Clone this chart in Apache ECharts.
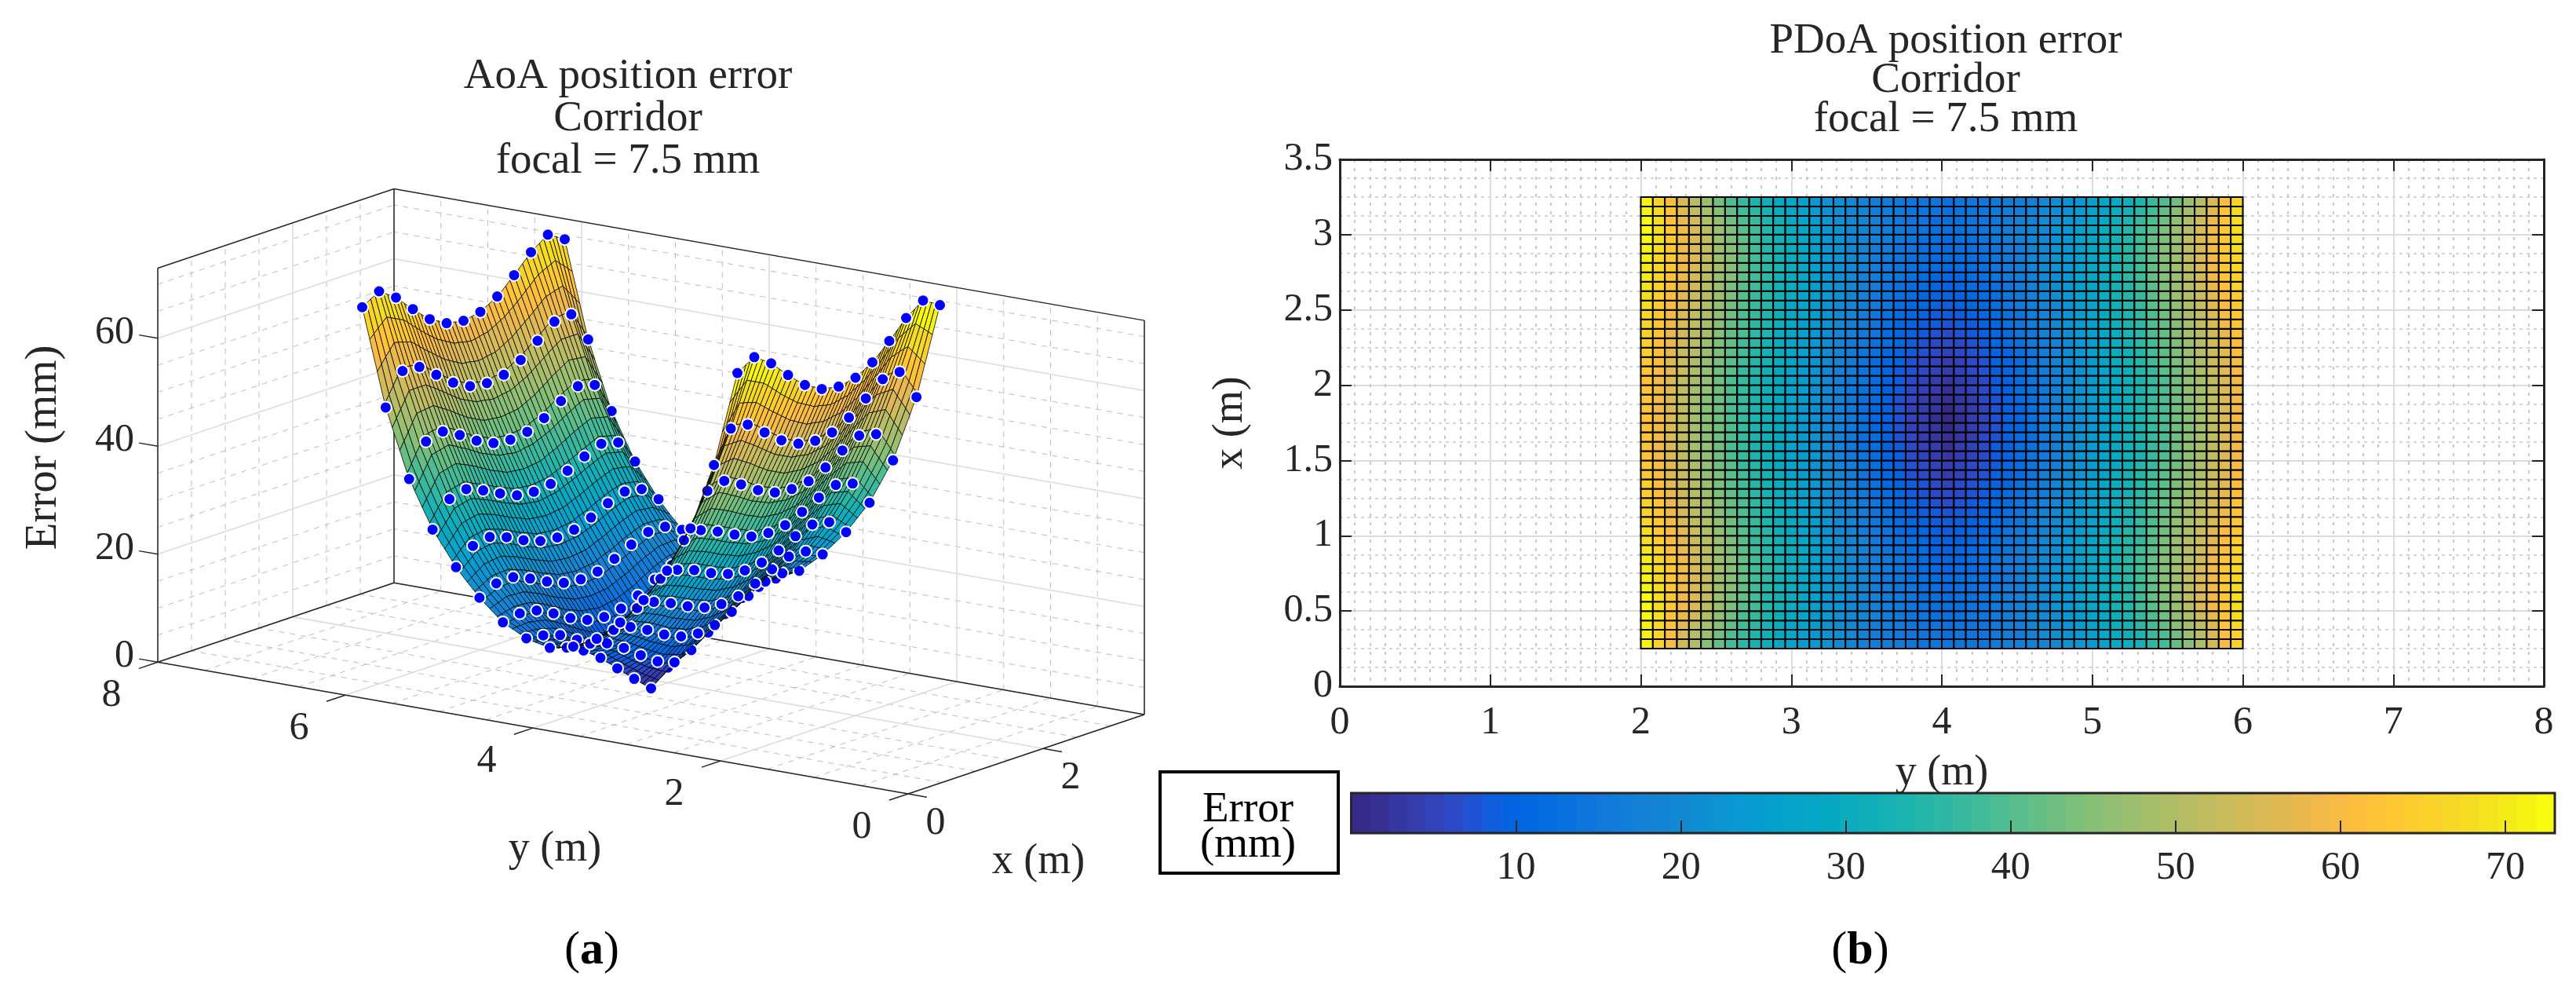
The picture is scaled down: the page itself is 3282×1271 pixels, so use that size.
<!DOCTYPE html>
<html><head><meta charset="utf-8">
<style>html,body{margin:0;padding:0;background:#fff}#c{width:3282px;height:1271px}</style>
<script src="https://cdn.jsdelivr.net/npm/echarts@6/dist/echarts.min.js"></script>
</head><body><div id="c"></div>
<script>
// ---------- data ----------
const surfaceXStart = 0.25, surfaceXStep = 0.0625, surfaceYStart = 2, surfaceYStep = 0.08;
// error in tenths of a mm; rows: x from 0.25 to 3.25, columns: y from 2 to 6
const errorTenths = [
[708,651,594,537,495,455,415,385,357,330,307,287,267,249,233,218,203,191,179,168,161,154,148,144,141,138,141,144,148,154,161,168,179,191,203,218,233,249,267,287,307,330,357,385,415,455,495,537,594,651,708],
[713,659,605,551,510,470,430,399,370,342,318,296,275,256,239,223,207,194,181,169,162,154,147,143,139,136,139,143,147,154,162,169,181,194,207,223,239,256,275,296,318,342,370,399,430,470,510,551,605,659,713],
[718,667,616,565,524,484,445,413,383,354,328,306,283,263,245,227,211,197,183,171,162,153,145,141,137,133,137,141,145,153,162,171,183,197,211,227,245,263,283,306,328,354,383,413,445,484,524,565,616,667,718],
[722,674,626,579,538,499,459,427,396,365,338,315,291,270,250,232,214,200,185,172,163,153,144,140,135,130,135,140,144,153,163,172,185,200,214,232,250,270,291,315,338,365,396,427,459,499,538,579,626,674,722],
[727,682,637,593,553,513,474,441,409,377,349,324,299,277,256,236,218,203,187,173,163,152,142,138,133,128,133,138,142,152,163,173,187,203,218,236,256,277,299,324,349,377,409,441,474,513,553,593,637,682,727],
[722,678,635,592,553,514,476,443,411,379,351,326,301,278,257,237,218,203,186,172,161,150,140,135,130,124,130,135,140,150,161,172,186,203,218,237,257,278,301,326,351,379,411,443,476,514,553,592,635,678,722],
[716,674,633,591,553,515,478,445,413,381,353,328,302,280,258,237,219,202,186,171,160,148,137,132,126,120,126,132,137,148,160,171,186,202,219,237,258,280,302,328,353,381,413,445,478,515,553,591,633,674,716],
[711,670,630,590,553,516,479,447,415,383,355,329,304,281,259,238,219,202,185,170,158,146,135,128,123,116,123,128,135,146,158,170,185,202,219,238,259,281,304,329,355,383,415,447,479,516,553,590,630,670,711],
[705,666,628,589,553,517,481,449,417,385,357,331,305,282,260,238,219,201,184,169,156,144,132,125,119,112,119,125,132,144,156,169,184,201,219,238,260,282,305,331,357,385,417,449,481,517,553,589,628,666,705],
[697,659,621,583,547,512,477,445,413,382,354,328,302,279,257,235,216,198,180,165,152,139,127,120,113,106,113,120,127,139,152,165,180,198,216,235,257,279,302,328,354,382,413,445,477,512,547,583,621,659,697],
[689,651,614,577,542,507,472,441,410,378,351,325,300,276,254,232,212,194,177,161,148,135,123,115,108,100,108,115,123,135,148,161,177,194,212,232,254,276,300,325,351,378,410,441,472,507,542,577,614,651,689],
[681,644,607,570,536,502,468,436,406,374,347,322,297,273,251,229,209,191,173,156,143,130,118,110,102,94,102,110,118,130,143,156,173,191,209,229,251,273,297,322,347,374,406,436,468,502,536,570,607,644,681],
[673,636,600,564,530,497,463,432,402,371,344,319,294,270,248,226,205,187,169,152,139,125,113,105,96,88,96,105,113,125,139,152,169,187,205,226,248,270,294,319,344,371,402,432,463,497,530,564,600,636,673],
[666,629,594,558,524,491,458,427,398,367,340,315,290,266,244,222,201,183,164,147,134,120,107,98,89,80,89,98,107,120,134,147,164,183,201,222,244,266,290,315,340,367,398,427,458,491,524,558,594,629,666],
[658,622,587,551,518,485,452,422,393,363,336,311,286,262,240,218,197,178,160,142,128,114,101,91,82,73,82,91,101,114,128,142,160,178,197,218,240,262,286,311,336,363,393,422,452,485,518,551,587,622,658],
[651,616,581,545,512,480,447,417,389,359,332,307,282,258,236,214,193,174,155,137,123,109,95,85,75,66,75,85,95,109,123,137,155,174,193,214,236,258,282,307,332,359,389,417,447,480,512,545,581,616,651],
[644,609,574,538,506,474,442,412,384,355,328,303,278,254,232,210,189,170,150,132,118,103,89,78,68,58,68,78,89,103,118,132,150,170,189,210,232,254,278,303,328,355,384,412,442,474,506,538,574,609,644],
[640,605,570,534,502,470,438,409,380,352,325,300,275,251,229,207,186,167,147,129,114,98,83,72,61,51,61,72,83,98,114,129,147,167,186,207,229,251,275,300,325,352,380,409,438,470,502,534,570,605,640],
[635,600,565,530,498,466,435,405,377,348,322,297,272,248,226,204,183,163,144,125,109,93,78,66,55,43,55,66,78,93,109,125,144,163,183,204,226,248,272,297,322,348,377,405,435,466,498,530,565,600,635],
[631,596,561,525,494,462,431,402,373,345,318,293,268,245,222,200,179,160,140,122,105,88,72,60,48,36,48,60,72,88,105,122,140,160,179,200,222,245,268,293,318,345,373,402,431,462,494,525,561,596,631],
[626,591,556,521,490,458,427,398,369,341,315,290,265,242,219,197,176,156,137,118,100,83,66,54,41,28,41,54,66,83,100,118,137,156,176,197,219,242,265,290,315,341,369,398,427,458,490,521,556,591,626],
[625,590,555,520,489,457,426,397,368,340,314,289,264,241,218,196,175,155,136,116,98,81,63,50,35,21,35,50,63,81,98,116,136,155,175,196,218,241,264,289,314,340,368,397,426,457,489,520,555,590,625],
[623,588,554,519,488,456,425,396,367,339,313,288,263,240,217,195,174,154,135,115,97,78,60,45,30,14,30,45,60,78,97,115,135,154,174,195,217,240,263,288,313,339,367,396,425,456,488,519,554,588,623],
[621,586,552,517,486,455,424,394,366,338,311,287,262,239,216,194,173,153,133,113,95,75,57,40,24,7,24,40,57,75,95,113,133,153,173,194,216,239,262,287,311,338,366,394,424,455,486,517,552,586,621],
[620,585,551,516,485,454,423,393,365,337,310,286,261,238,215,193,172,152,132,112,93,73,54,36,18,0,18,36,54,73,93,112,132,152,172,193,215,238,261,286,310,337,365,393,423,454,485,516,551,585,620],
[621,586,552,517,486,455,424,394,366,338,311,287,262,239,216,194,173,153,133,113,95,75,57,40,24,7,24,40,57,75,95,113,133,153,173,194,216,239,262,287,311,338,366,394,424,455,486,517,552,586,621],
[623,588,554,519,488,456,425,396,367,339,313,288,263,240,217,195,174,154,135,115,97,78,60,45,30,14,30,45,60,78,97,115,135,154,174,195,217,240,263,288,313,339,367,396,425,456,488,519,554,588,623],
[625,590,555,520,489,457,426,397,368,340,314,289,264,241,218,196,175,155,136,116,98,81,63,50,35,21,35,50,63,81,98,116,136,155,175,196,218,241,264,289,314,340,368,397,426,457,489,520,555,590,625],
[626,591,556,521,490,458,427,398,369,341,315,290,265,242,219,197,176,156,137,118,100,83,66,54,41,28,41,54,66,83,100,118,137,156,176,197,219,242,265,290,315,341,369,398,427,458,490,521,556,591,626],
[631,596,561,525,494,462,431,402,373,345,318,293,268,245,222,200,179,160,140,122,105,88,72,60,48,36,48,60,72,88,105,122,140,160,179,200,222,245,268,293,318,345,373,402,431,462,494,525,561,596,631],
[635,600,565,530,498,466,435,405,377,348,322,297,272,248,226,204,183,163,144,125,109,93,78,66,55,43,55,66,78,93,109,125,144,163,183,204,226,248,272,297,322,348,377,405,435,466,498,530,565,600,635],
[640,605,570,534,502,470,438,409,380,352,325,300,275,251,229,207,186,167,147,129,114,98,83,72,61,51,61,72,83,98,114,129,147,167,186,207,229,251,275,300,325,352,380,409,438,470,502,534,570,605,640],
[644,609,574,538,506,474,442,412,384,355,328,303,278,254,232,210,189,170,150,132,118,103,89,78,68,58,68,78,89,103,118,132,150,170,189,210,232,254,278,303,328,355,384,412,442,474,506,538,574,609,644],
[651,616,581,545,512,480,447,417,389,359,332,307,282,258,236,214,193,174,155,137,123,109,95,85,75,66,75,85,95,109,123,137,155,174,193,214,236,258,282,307,332,359,389,417,447,480,512,545,581,616,651],
[658,622,587,551,518,485,452,422,393,363,336,311,286,262,240,218,197,178,160,142,128,114,101,91,82,73,82,91,101,114,128,142,160,178,197,218,240,262,286,311,336,363,393,422,452,485,518,551,587,622,658],
[666,629,594,558,524,491,458,427,398,367,340,315,290,266,244,222,201,183,164,147,134,120,107,98,89,80,89,98,107,120,134,147,164,183,201,222,244,266,290,315,340,367,398,427,458,491,524,558,594,629,666],
[673,636,600,564,530,497,463,432,402,371,344,319,294,270,248,226,205,187,169,152,139,125,113,105,96,88,96,105,113,125,139,152,169,187,205,226,248,270,294,319,344,371,402,432,463,497,530,564,600,636,673],
[681,644,607,570,536,502,468,436,406,374,347,322,297,273,251,229,209,191,173,156,143,130,118,110,102,94,102,110,118,130,143,156,173,191,209,229,251,273,297,322,347,374,406,436,468,502,536,570,607,644,681],
[689,651,614,577,542,507,472,441,410,378,351,325,300,276,254,232,212,194,177,161,148,135,123,115,108,100,108,115,123,135,148,161,177,194,212,232,254,276,300,325,351,378,410,441,472,507,542,577,614,651,689],
[697,659,621,583,547,512,477,445,413,382,354,328,302,279,257,235,216,198,180,165,152,139,127,120,113,106,113,120,127,139,152,165,180,198,216,235,257,279,302,328,354,382,413,445,477,512,547,583,621,659,697],
[705,666,628,589,553,517,481,449,417,385,357,331,305,282,260,238,219,201,184,169,156,144,132,125,119,112,119,125,132,144,156,169,184,201,219,238,260,282,305,331,357,385,417,449,481,517,553,589,628,666,705],
[711,670,630,590,553,516,479,447,415,383,355,329,304,281,259,238,219,202,185,170,158,146,135,128,123,116,123,128,135,146,158,170,185,202,219,238,259,281,304,329,355,383,415,447,479,516,553,590,630,670,711],
[716,674,633,591,553,515,478,445,413,381,353,328,302,280,258,237,219,202,186,171,160,148,137,132,126,120,126,132,137,148,160,171,186,202,219,237,258,280,302,328,353,381,413,445,478,515,553,591,633,674,716],
[722,678,635,592,553,514,476,443,411,379,351,326,301,278,257,237,218,203,186,172,161,150,140,135,130,124,130,135,140,150,161,172,186,203,218,237,257,278,301,326,351,379,411,443,476,514,553,592,635,678,722],
[727,682,637,593,553,513,474,441,409,377,349,324,299,277,256,236,218,203,187,173,163,152,142,138,133,128,133,138,142,152,163,173,187,203,218,236,256,277,299,324,349,377,409,441,474,513,553,593,637,682,727],
[722,674,626,579,538,499,459,427,396,365,338,315,291,270,250,232,214,200,185,172,163,153,144,140,135,130,135,140,144,153,163,172,185,200,214,232,250,270,291,315,338,365,396,427,459,499,538,579,626,674,722],
[718,667,616,565,524,484,445,413,383,354,328,306,283,263,245,227,211,197,183,171,162,153,145,141,137,133,137,141,145,153,162,171,183,197,211,227,245,263,283,306,328,354,383,413,445,484,524,565,616,667,718],
[713,659,605,551,510,470,430,399,370,342,318,296,275,256,239,223,207,194,181,169,162,154,147,143,139,136,139,143,147,154,162,169,181,194,207,223,239,256,275,296,318,342,370,399,430,470,510,551,605,659,713],
[708,651,594,537,495,455,415,385,357,330,307,287,267,249,233,218,203,191,179,168,161,154,148,144,141,138,141,144,148,154,161,168,179,191,203,218,233,249,267,287,307,330,357,385,415,455,495,537,594,651,708]
];
// measured points: error in tenths of a mm; rows y = 2..6 (step 0.25), columns x = 0.25..3.25 (step 0.25)
const measuredX = [0.25,0.5,0.75,1,1.25,1.5,1.75,2,2.25,2.5,2.75,3,3.25];
const measuredY = [2,2.25,2.5,2.75,3,3.25,3.5,3.75,4,4.25,4.5,4.75,5,5.25,5.5,5.75,6];
const measuredTenths = [
[708,727,705,673,644,626,620,626,644,673,705,727,708],
[530,587,584,559,534,517,512,517,534,559,584,587,530],
[405,464,472,455,434,419,415,419,434,455,472,464,405],
[319,365,373,360,344,330,326,330,344,360,373,365,319],
[257,286,292,281,265,253,249,253,265,281,292,286,257],
[208,224,225,212,196,183,179,183,196,212,225,224,208],
[170,176,171,155,136,122,117,122,136,155,171,176,170],
[148,143,133,114,90,68,56,68,90,114,133,143,148],
[138,128,112,88,58,28,0,28,58,88,112,128,138],
[148,143,133,114,90,68,56,68,90,114,133,143,148],
[170,176,171,155,136,122,117,122,136,155,171,176,170],
[208,224,225,212,196,183,179,183,196,212,225,224,208],
[257,286,292,281,265,253,249,253,265,281,292,286,257],
[319,365,373,360,344,330,326,330,344,360,373,365,319],
[405,464,472,455,434,419,415,419,434,455,472,464,405],
[530,587,584,559,534,517,512,517,534,559,584,587,530],
[708,727,705,673,644,626,620,626,644,673,705,727,708]
];
// 3D axes
const xLimits = [0,3.5], yLimits = [0,8], zLimits = [0,73];
const xMajor = [0,2], yMajor = [0,2,4,6,8], zMajor = [0,20,40,60];
const xMinor = [0.5,1,1.5,2.5,3,3.5], yMinor = [0.5,1,1.5,2.5,3,3.5,4.5,5,5.5,6.5,7,7.5];
const zMinor = [5,10,15,25,30,35,45,50,55,65,70];
const colorbarRange = [0,73];
// parula, 64 levels
const colormap = [[.2081,.1663,.5292],[.2116,.1898,.5777],[.2123,.2138,.6270],[.2081,.2386,.6771],[.1959,.2645,.7279],[.1707,.2919,.7792],[.1253,.3242,.8303],[.0591,.3598,.8683],[.0117,.3875,.8820],[.0060,.4086,.8828],[.0165,.4266,.8786],[.0329,.4430,.8720],[.0498,.4586,.8641],[.0629,.4737,.8554],[.0723,.4887,.8467],[.0779,.5040,.8384],[.0793,.5200,.8312],[.0749,.5375,.8263],[.0641,.5570,.8240],[.0488,.5772,.8228],[.0343,.5966,.8199],[.0265,.6137,.8135],[.0239,.6287,.8038],[.0231,.6418,.7913],[.0228,.6535,.7768],[.0267,.6642,.7607],[.0384,.6743,.7436],[.0590,.6838,.7254],[.0843,.6928,.7062],[.1133,.7015,.6859],[.1453,.7098,.6646],[.1801,.7177,.6424],[.2178,.7250,.6193],[.2586,.7317,.5954],[.3022,.7376,.5712],[.3482,.7424,.5473],[.3953,.7459,.5244],[.4420,.7481,.5033],[.4871,.7491,.4840],[.5300,.7491,.4661],[.5709,.7485,.4494],[.6099,.7473,.4337],[.6473,.7456,.4188],[.6834,.7435,.4044],[.7184,.7411,.3905],[.7525,.7384,.3768],[.7858,.7356,.3633],[.8185,.7327,.3498],[.8507,.7299,.3360],[.8824,.7274,.3217],[.9139,.7258,.3063],[.9450,.7261,.2886],[.9739,.7314,.2666],[.9938,.7455,.2403],[.9990,.7653,.2164],[.9955,.7861,.1967],[.9880,.8066,.1794],[.9789,.8271,.1633],[.9697,.8481,.1475],[.9626,.8705,.1309],[.9589,.8949,.1132],[.9598,.9218,.0948],[.9661,.9514,.0755],[.9763,.9831,.0538]];

// ---------- helpers ----------
const FONT = '"Liberation Serif","Times New Roman",serif', INK = '#262626';
const FS = 50, FS_TITLE = 55, FS_NAME = 54;
const toCss = c => 'rgb(' + c.map(v => Math.round(v*255)).join(',') + ')';
const colorOf = v => { const t = (v-colorbarRange[0])/(colorbarRange[1]-colorbarRange[0]);
  return toCss(colormap[Math.max(0,Math.min(colormap.length-1,Math.floor(t*colormap.length)))]); };
const nodeX = r => surfaceXStart + r*surfaceXStep, nodeY = c => surfaceYStart + c*surfaceYStep;
const zAt = (r,c) => errorTenths[r][c]/10;

// orthographic view of the 3D box
const project = (x,y,z) => [1157 + 86*x - 119.5*y, 1011 - 28.86*x - 20.96*y - 6.875*z];
const farness = (x,y,z) => 116*x + 83.8*y - 1.716*z;

// walls and floor of the 3D axes
const wallData = [];
function gridLines(xs,ys,zs,kind){
  const [x0,x1]=xLimits,[y0,y1]=yLimits,[z0,z1]=zLimits;
  xs.forEach(x=>{ wallData.push([x,y1,z0,x,y1,z1,kind]); wallData.push([x,y0,z0,x,y1,z0,kind]); });
  ys.forEach(y=>{ wallData.push([x1,y,z0,x1,y,z1,kind]); wallData.push([x0,y,z0,x1,y,z0,kind]); });
  zs.forEach(z=>{ wallData.push([x0,y1,z,x1,y1,z,kind]); wallData.push([x1,y0,z,x1,y1,z,kind]); });
}
gridLines(xMinor,yMinor,zMinor,0);
gridLines(xMajor,yMajor,zMajor,1);
const boxData = [];
{ const [x0,x1]=xLimits,[y0,y1]=yLimits,[z0,z1]=zLimits;
  [[x0,y1,z0,x0,y0,z0],[x0,y0,z0,x1,y0,z0],[x1,y0,z0,x1,y1,z0],[x1,y1,z0,x0,y1,z0],
   [x0,y1,z0,x0,y1,z1],[x1,y1,z0,x1,y1,z1],[x1,y0,z0,x1,y0,z1],[x0,y1,z1,x1,y1,z1],[x1,y1,z1,x1,y0,z1]
  ].forEach(l=>boxData.push(l));
  yMajor.forEach(y=>boxData.push([x0,y,z0,x0-0.28,y,z0]));
  xMajor.forEach(x=>boxData.push([x,y0,z0,x,y0-0.2,z0]));
  zMajor.forEach(z=>boxData.push([x0,y1,z,x0,y1+0.2,z]));
}
// 3D tick labels: [x,y,z,text index,kind]
const tick3d = [];
yMajor.forEach(y=>tick3d.push([xLimits[0],y,0,y,0]));
xMajor.forEach(x=>tick3d.push([x,yLimits[0],0,x,1]));
zMajor.forEach(z=>tick3d.push([xLimits[0],yLimits[1],z,z,2]));
const tickOffsets = [[-59,43,'center'],[35,38,'center'],[-30,-7,'right']];

// painter's order: surface quads and measured points
const painter = [];
for (let r=0;r<errorTenths.length-1;r++) for (let c=0;c<errorTenths[0].length-1;c++){
  const d=(farness(nodeX(r),nodeY(c),zAt(r,c))+farness(nodeX(r+1),nodeY(c),zAt(r+1,c))
          +farness(nodeX(r),nodeY(c+1),zAt(r,c+1))+farness(nodeX(r+1),nodeY(c+1),zAt(r+1,c+1)))/4;
  painter.push([0,r,c,d]);
}
measuredTenths.forEach((row,j)=>row.forEach((v,i)=>painter.push([1,j,i,farness(measuredX[i],measuredY[j],v/10)-30])));
painter.sort((a,b)=>b[3]-a[3]);

// heat map cells: value of the lower corner, as a flat-shaded surface
const cells = [];
for (let r=0;r<errorTenths.length-1;r++) for (let c=0;c<errorTenths[0].length-1;c++)
  cells.push([nodeY(c),nodeY(c+1),nodeX(r),nodeX(r+1),zAt(r,c)]);
const barCells = colormap.map((c,i)=>[i]);

const segRender = style => (p,api)=>{
  const a=api.coord(project(api.value(0),api.value(1),api.value(2))), b=api.coord(project(api.value(3),api.value(4),api.value(5)));
  return {type:'line',shape:{x1:a[0],y1:a[1],x2:b[0],y2:b[1]},style:style(api)};
};
const panelTag = t => ({text:'({b|'+t+'})',top:1176,textAlign:'center',
  textStyle:{fontFamily:FONT,fontSize:60,fontWeight:'normal',color:'#000',rich:{b:{fontFamily:FONT,fontSize:60,fontWeight:'bold',color:'#000'}}}});

const option = {
  animation:false, backgroundColor:'#fff',
  title:[
    {text:'AoA position error\nCorridor\nfocal = 7.5 mm',left:795,top:66,textAlign:'center',textStyle:{fontFamily:FONT,fontSize:FS_TITLE,fontWeight:'normal',color:INK,lineHeight:54}},
    {text:'PDoA position error\nCorridor\nfocal = 7.5 mm',left:2474,top:23,textAlign:'center',textStyle:{fontFamily:FONT,fontSize:FS_TITLE,fontWeight:'normal',color:INK,lineHeight:50}},
    Object.assign(panelTag('a'),{left:749}),
    Object.assign(panelTag('b'),{left:2365})
  ],
  grid:[
    {left:0,top:0,width:3282,height:1271},
    {left:1707,top:203,width:1534,height:671},
    {left:1721.5,top:1010,width:1533.5,height:51}
  ],
  xAxis:[
    {type:'value',gridIndex:0,min:0,max:3282,show:false},
    {type:'value',gridIndex:1,min:0,max:8,interval:1,position:'bottom',
      name:'y (m)',nameLocation:'middle',nameGap:84,nameTextStyle:{fontFamily:FONT,fontSize:FS_NAME,color:INK},
      axisLine:{show:true,onZero:false,lineStyle:{color:INK,width:3}},axisTick:{inside:true,length:15,lineStyle:{color:INK,width:2}},
      axisLabel:{fontFamily:FONT,fontSize:FS,color:INK,margin:22},
      splitLine:{show:true,lineStyle:{color:'#dcdcdc',width:2}},
      minorTick:{show:false,splitNumber:10},minorSplitLine:{show:true,lineStyle:{color:'#c8c8c8',width:2,type:[4,7]}}},
    {type:'value',gridIndex:1,min:0,max:8,interval:1,position:'top',
      axisLine:{show:true,onZero:false,lineStyle:{color:INK,width:3}},axisTick:{inside:true,length:15,lineStyle:{color:INK,width:2}},
      axisLabel:{show:false},splitLine:{show:false}},
    {type:'value',gridIndex:2,min:colorbarRange[0],max:colorbarRange[1],interval:10,position:'bottom',z:6,
      axisLine:{show:false,onZero:false},axisTick:{inside:true,length:16,lineStyle:{color:INK,width:2}},
      axisLabel:{fontFamily:FONT,fontSize:FS,color:INK,margin:20,showMaxLabel:false,formatter:v=>v===0?'':String(v)},
      splitLine:{show:false}}
  ],
  yAxis:[
    {type:'value',gridIndex:0,min:0,max:1271,inverse:true,show:false},
    {type:'value',gridIndex:1,min:0,max:3.5,interval:0.5,position:'left',
      name:'x (m)',nameLocation:'middle',nameGap:112,nameRotate:90,nameTextStyle:{fontFamily:FONT,fontSize:FS_NAME,color:INK},
      axisLine:{show:true,onZero:false,lineStyle:{color:INK,width:3}},axisTick:{inside:true,length:15,lineStyle:{color:INK,width:2}},
      axisLabel:{fontFamily:FONT,fontSize:FS,color:INK,margin:9,formatter:v=>String(v)},
      splitLine:{show:true,lineStyle:{color:'#dcdcdc',width:2}},
      minorTick:{show:false,splitNumber:4},minorSplitLine:{show:true,lineStyle:{color:'#c8c8c8',width:1.5,type:[4,5]}}},
    {type:'value',gridIndex:1,min:0,max:3.5,interval:0.5,position:'right',
      axisLine:{show:true,onZero:false,lineStyle:{color:INK,width:3}},axisTick:{inside:true,length:15,lineStyle:{color:INK,width:2}},
      axisLabel:{show:false},splitLine:{show:false}},
    {type:'value',gridIndex:2,min:0,max:1,show:false}
  ],
  series:[
    {type:'custom',name:'walls',coordinateSystem:'cartesian2d',xAxisIndex:0,yAxisIndex:0,z:1,silent:true,clip:false,progressive:0,
      data:wallData,
      renderItem:segRender(api=>api.value(6)?{stroke:'#dcdcdc',lineWidth:1.6}:{stroke:'#bdbdbd',lineWidth:1,lineDash:[7,7]})},
    {type:'custom',name:'box',coordinateSystem:'cartesian2d',xAxisIndex:0,yAxisIndex:0,z:2,silent:true,clip:false,progressive:0,
      data:boxData,
      renderItem:segRender(()=>({stroke:INK,lineWidth:1.5}))},
    {type:'custom',name:'tick labels 3D',coordinateSystem:'cartesian2d',xAxisIndex:0,yAxisIndex:0,z:2,silent:true,clip:false,progressive:0,
      data:tick3d,
      renderItem:(p,api)=>{
        const q=api.coord(project(api.value(0),api.value(1),api.value(2))),o=tickOffsets[api.value(4)];
        return {type:'text',style:{x:q[0]+o[0],y:q[1]+o[1],text:String(api.value(3)),fontFamily:FONT,fontSize:FS,fill:INK,
          align:o[2],verticalAlign:'middle',textAlign:o[2],textVerticalAlign:'middle'}};
      }},
    {type:'custom',name:'AoA position error',coordinateSystem:'cartesian2d',xAxisIndex:0,yAxisIndex:0,z:5,silent:true,clip:false,progressive:0,
      data:painter,
      renderItem:(p,api)=>{
        const kind=api.value(0),a=api.value(1),b=api.value(2);
        if(kind===1){
          const q=api.coord(project(measuredX[b],measuredY[a],measuredTenths[a][b]/10));
          return {type:'circle',shape:{cx:q[0],cy:q[1],r:7.5},style:{fill:'#0000ff',stroke:'#fff',lineWidth:2}};
        }
        const pts=[[a,b],[a+1,b],[a+1,b+1],[a,b+1]].map(n=>api.coord(project(nodeX(n[0]),nodeY(n[1]),zAt(n[0],n[1]))));
        return {type:'polygon',shape:{points:pts},style:{fill:colorOf(zAt(a,b)),stroke:'#000',lineWidth:0.8}};
      }},
    {type:'custom',name:'PDoA position error',coordinateSystem:'cartesian2d',xAxisIndex:1,yAxisIndex:1,z:3,silent:true,clip:false,progressive:0,
      data:cells,
      renderItem:(p,api)=>{
        const a=api.coord([api.value(0),api.value(2)]),b=api.coord([api.value(1),api.value(3)]);
        return {type:'rect',shape:{x:a[0],y:b[1],width:b[0]-a[0],height:a[1]-b[1]},
          style:{fill:colorOf(api.value(4)),stroke:'#000',lineWidth:2}};
      }},
    {type:'custom',name:'colorbar',coordinateSystem:'cartesian2d',xAxisIndex:3,yAxisIndex:3,z:3,silent:true,clip:false,progressive:0,
      data:barCells,
      renderItem:(p,api)=>{
        const i=api.value(0),n=colormap.length,span=colorbarRange[1]-colorbarRange[0];
        const a=api.coord([colorbarRange[0]+span*i/n,0]),b=api.coord([colorbarRange[0]+span*(i+1)/n,1]);
        return {type:'rect',shape:{x:a[0],y:b[1],width:b[0]-a[0]+0.6,height:a[1]-b[1]},style:{fill:toCss(colormap[i])}};
      }}
  ],
  graphic:[
    {type:'rect',z:10,shape:{x:1721.5,y:1010,width:1533.5,height:51},style:{fill:'none',stroke:INK,lineWidth:3}},
    {type:'rect',z:10,shape:{x:1478,y:983,width:227,height:129},style:{fill:'#fff',stroke:'#000',lineWidth:4}},
    {type:'text',z:11,x:1590,y:1032,style:{text:'Error',fontFamily:FONT,fontSize:FS_TITLE,fill:'#000',align:'center',verticalAlign:'middle'}},
    {type:'text',z:11,x:1590,y:1077,style:{text:'(mm)',fontFamily:FONT,fontSize:FS_TITLE,fill:'#000',align:'center',verticalAlign:'middle'}},
    {type:'text',z:11,x:56,y:570,rotation:Math.PI/2,style:{text:'Error (mm)',fontFamily:FONT,fontSize:57,fill:INK,align:'center',verticalAlign:'middle'}},
    {type:'text',z:11,x:707,y:1082,style:{text:'y (m)',fontFamily:FONT,fontSize:FS_NAME,fill:INK,align:'center',verticalAlign:'middle'}},
    {type:'text',z:11,x:1323,y:1098,style:{text:'x (m)',fontFamily:FONT,fontSize:FS_NAME,fill:INK,align:'center',verticalAlign:'middle'}}
  ]
};
const chart = echarts.init(document.getElementById('c'),null,{renderer:'canvas',width:3282,height:1271});
chart.setOption(option);
</script></body></html>
